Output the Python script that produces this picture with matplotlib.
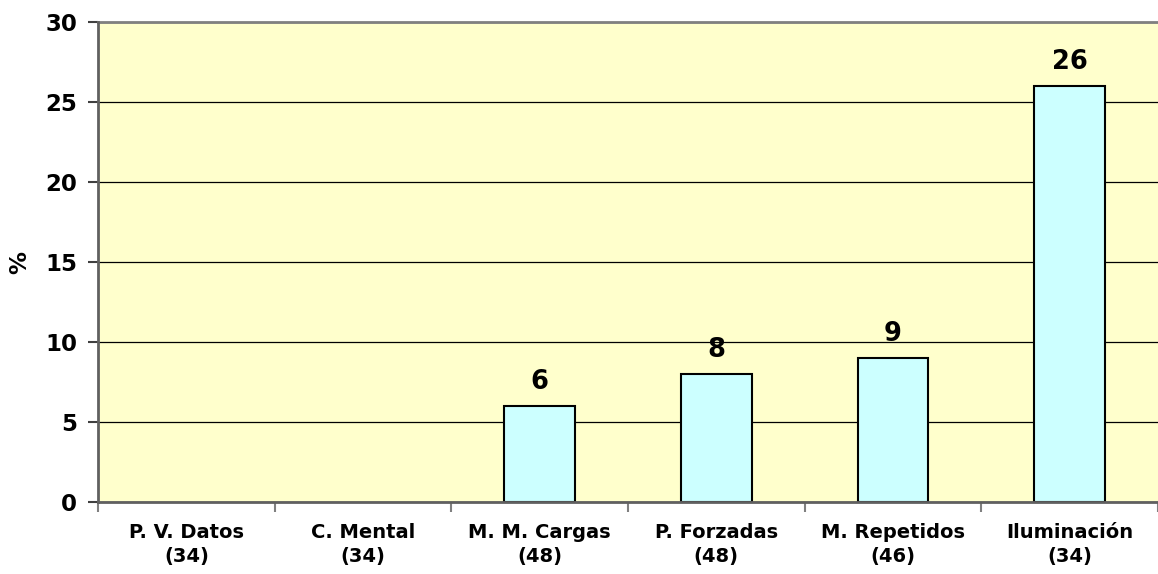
import matplotlib
matplotlib.use("Agg")
import matplotlib.pyplot as plt
import numpy as np

categories = ["P. V. Datos\n(34)", "C. Mental\n(34)", "M. M. Cargas\n(48)",
              "P. Forzadas\n(48)", "M. Repetidos\n(46)", "Iluminación\n(34)"]
values = [0, 0, 6, 8, 9, 26]
yticks = [0, 5, 10, 15, 20, 25, 30]

plt.rcParams['font.family'] = ['DejaVu Sans']
plt.rcParams['font.weight'] = 'bold'

fig = plt.figure(figsize=(11.58, 5.74), dpi=100)
ax = fig.add_axes([98/1158, 72/574, 1 - 98/1158, 480/574])
ax.set_facecolor('#FFFFCC')

x = np.arange(len(categories))
ax.set_axisbelow(True)
ax.yaxis.grid(True, color='#000000', linewidth=0.9)
bars = ax.bar(x, values, width=0.4, color='#CCFFFF', edgecolor='black',
              linewidth=[1.5 if v > 0 else 0 for v in values], zorder=2)
for xi, v in zip(x, values):
    if v > 0:
        ax.annotate(str(v), (xi, v), xytext=(0, 8), textcoords='offset points',
                    ha='center', va='bottom', fontsize=18.5, fontweight='bold')

ax.set_xlim(-0.5, len(categories) - 0.5)
ax.set_ylim(0, 30)
ax.set_yticks(yticks)
ax.set_yticklabels([str(t) for t in yticks], fontsize=16.5, fontweight='bold')
ax.set_xticks(x)
ax.set_xticklabels(categories, fontsize=14, fontweight='bold', linespacing=1.35)
ax.tick_params(axis='x', length=0, pad=15)
ax.set_xticks(np.arange(-0.5, len(categories), 1), minor=True)
ax.tick_params(axis='x', which='minor', length=7, width=1.5, color='#808080', direction='out')
ax.tick_params(axis='y', length=7, width=1.5, color='#404040', pad=8)
ax.set_ylabel('%', fontsize=16.5, fontweight='bold', labelpad=10)

for side in ['left', 'bottom']:
    ax.spines[side].set_color('#606060')
    ax.spines[side].set_linewidth(2)
    ax.spines[side].set_zorder(3)
ax.spines['top'].set_color('#808080')
ax.spines['top'].set_linewidth(2)
ax.spines['right'].set_visible(False)

fig.savefig('out.png', dpi=100)
